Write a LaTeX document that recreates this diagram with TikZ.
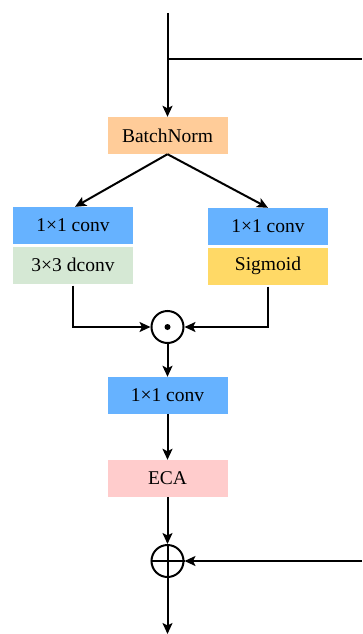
\documentclass[tikz,border=0pt]{standalone}
\usepackage{fontspec}
\setmainfont{Liberation Serif}
\usepackage{tikz}
\usetikzlibrary{arrows.meta,positioning,calc}
\definecolor{convblue}{HTML}{66B2FF}
\definecolor{bnorange}{HTML}{FFCC99}
\definecolor{dgreen}{HTML}{D5E8D4}
\definecolor{sigyellow}{HTML}{FFD966}
\definecolor{ecapink}{HTML}{FFCCCC}
\tikzset{
  blk/.style={minimum width=120pt,minimum height=37pt,inner sep=0pt,font=\fontsize{19.5}{22}\selectfont},
  opnode/.style={draw,circle,minimum size=32pt,inner sep=0pt,line width=2pt},
  flow/.style={line width=2pt,-{Stealth[length=11pt,width=10pt,inset=2.5pt]}},
  wire/.style={line width=2pt}
}

\begin{document}
\begin{tikzpicture}[x=1pt,y=-1pt]
    \useasboundingbox (0,0) rectangle (362,634);
    \coordinate (in) at (167.5,13);
    \coordinate (br) at (167.5,59);
    \coordinate (skipA) at (362,59);
    \coordinate (skipB) at (362,561);
    \coordinate (out) at (167.5,634);
    \node[blk,fill=bnorange] (bn) at (167.5,135.5) {BatchNorm};
    \node[blk,fill=convblue] (lconv) at (73,225.5) {1×1 conv};
    \node[blk,fill=dgreen] (dconv) at (73,265) {3×3 dconv};
    \node[blk,fill=convblue] (rconv) at (268,226.5) {1×1 conv};
    \node[blk,fill=sigyellow] (sig) at (268,266) {Sigmoid};
    \node[opnode] (mul) at (167.5,327) {};
    \fill (mul) circle (3);
    \node[blk,fill=convblue] (conv) at (167.5,395.5) {1×1 conv};
    \node[blk,fill=ecapink] (eca) at (167.5,478.5) {ECA};
    \node[opnode] (add) at (167.5,561) {};
    \draw[wire] (add.north) -- (add.south);
    \draw[wire] (add.west) -- (add.east);
    \draw[flow] (in) -- (bn);
    \draw[wire] (br) -- (skipA);
    \draw[flow] (bn.south) -- ($(lconv.north)+(2,0)$);
    \draw[flow] (bn.south) -- (rconv.north);
    \draw[flow] ($(dconv.south)+(0,2)$) |- (mul.west);
    \draw[flow] ($(sig.south)+(0,2)$) |- (mul.east);
    \draw[flow] (mul) -- (conv);
    \draw[flow] (conv) -- (eca);
    \draw[flow] (eca) -- (add);
    \draw[flow] (skipB) -- (add.east);
    \draw[flow] (add) -- (out);
  \end{tikzpicture}
\end{document}
